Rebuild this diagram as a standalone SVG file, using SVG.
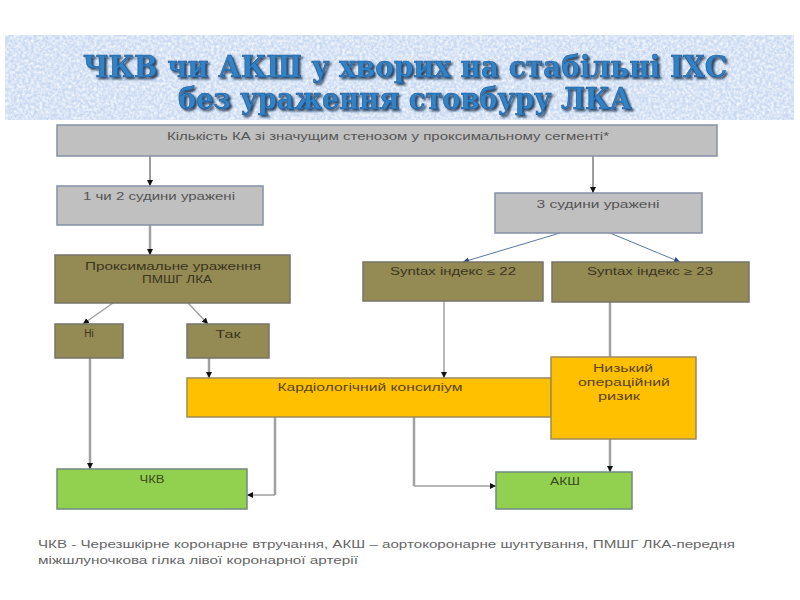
<svg xmlns="http://www.w3.org/2000/svg" width="800" height="600" viewBox="0 0 800 600">
<defs>
<filter id="tex" x="0" y="0" width="100%" height="100%">
<feTurbulence type="fractalNoise" baseFrequency="0.35" numOctaves="2" seed="3" result="n"/>
<feColorMatrix in="n" type="matrix" values="0 0 0 0 1  0 0 0 0 1  0 0 0 0 1  0 0 0 -1.6 1.1" result="w"/>
<feComposite in="w" in2="SourceGraphic" operator="in"/>
</filter>
<filter id="sh" x="-5%" y="-20%" width="110%" height="140%">
<feGaussianBlur in="SourceAlpha" stdDeviation="1"/>
<feOffset dx="2" dy="2" result="b"/>
<feFlood flood-color="#0c2440" flood-opacity="0.85"/>
<feComposite in2="b" operator="in" result="s"/>
<feMerge><feMergeNode in="s"/><feMergeNode in="SourceGraphic"/></feMerge>
</filter>
<marker id="ah" markerUnits="userSpaceOnUse" markerWidth="7" markerHeight="7" refX="6" refY="3" orient="auto">
<path d="M0,0 L6,3 L0,6 z" fill="#111"/>
</marker>
<marker id="ahb" markerUnits="userSpaceOnUse" markerWidth="7" markerHeight="7" refX="6" refY="3" orient="auto">
<path d="M0,0 L6,3 L0,6 z" fill="#2a4a80"/>
</marker>
</defs>
<style>
.t{font-family:"Liberation Sans",Arial,sans-serif;font-size:10px;text-anchor:middle}
.gray{fill:#c0c0c0;stroke:#8591a6;stroke-width:1.5}
.olive{fill:#948a54;stroke:#76746a;stroke-width:1.5}
.gold{fill:#ffc000;stroke:#9c8a5a;stroke-width:1.5}
.green{fill:#92d050;stroke:#6f8a80;stroke-width:1.5}
.tg{fill:#555}
.to{fill:#3b3520}
.ty{fill:#5a4418}
.tn{fill:#3a4a20}
.c1{fill:none;stroke:#3a3a3a;stroke-width:1}
.c2{fill:none;stroke:#a0a0a0;stroke-width:2.5}
.c3{fill:none;stroke:#a0a0a0;stroke-width:1.5}
.cb{fill:none;stroke:#5878a8;stroke-width:1}
.title{font-family:"DejaVu Serif","Liberation Serif",serif;font-weight:bold;font-size:30px;fill:#3282c6;stroke:#1d5590;stroke-width:0.6;text-anchor:middle}
.foot{font-family:"Liberation Sans",Arial,sans-serif;font-size:10px;fill:#666}
</style>
<rect x="0" y="0" width="800" height="600" fill="#fff"/>
<g id="banner">
<rect x="5" y="35" width="789" height="85" fill="#c9d9f2"/>
<rect x="5" y="35" width="789" height="85" fill="#c9d9f2" filter="url(#tex)"/>
<g filter="url(#sh)">
<text class="title" x="405" y="77" textLength="644" lengthAdjust="spacingAndGlyphs">ЧКВ чи АКШ у  хворих на стабільні ІХС</text>
<text class="title" x="405" y="109" textLength="454" lengthAdjust="spacingAndGlyphs">без ураження стовбуру ЛКА</text>
</g>
</g>
<g id="connectors">
<path class="c1" d="M150,156 V186" marker-end="url(#ah)"/>
<path class="c1" d="M593,156 V193" marker-end="url(#ah)"/>
<path class="c2" d="M150,225 V255" marker-end="url(#ah)"/>
<path class="c3" d="M113,303 L83,324" marker-end="url(#ah)"/>
<path class="c3" d="M188,303 L208,324" marker-end="url(#ah)"/>
<path class="cb" d="M560,233 L463,262" marker-end="url(#ahb)"/>
<path class="cb" d="M610,233 L680,262" marker-end="url(#ahb)"/>
<path class="c2" d="M90,358 V469" marker-end="url(#ah)"/>
<path class="c2" d="M209,358 V378" marker-end="url(#ah)"/>
<path class="c3" d="M444,301 V378" marker-end="url(#ah)"/>
<path class="c2" d="M610,302 V357"/>
<path class="c2" d="M275,417 V495"/>
<path class="c3" d="M275,495 H247" marker-end="url(#ah)"/>
<path class="c2" d="M414,417 V486"/>
<path class="c3" d="M414,486 H496" marker-end="url(#ah)"/>
<path class="c2" d="M610,439 V472" marker-end="url(#ah)"/>
</g>
<g id="n-top">
<rect class="gray" x="57" y="125" width="660" height="31"/>
<text class="t tg" x="388" y="140" textLength="442" lengthAdjust="spacingAndGlyphs">Кількість КА зі значущим стенозом у проксимальному сегменті*</text>
</g>
<g id="n-12">
<rect class="gray" x="57" y="186" width="206" height="39"/>
<text class="t tg" x="159" y="200" textLength="152" lengthAdjust="spacingAndGlyphs">1 чи 2 судини уражені</text>
</g>
<g id="n-3">
<rect class="gray" x="495" y="193" width="207" height="40"/>
<text class="t tg" x="598" y="208" textLength="123" lengthAdjust="spacingAndGlyphs">3 судини уражені</text>
</g>
<g id="n-prox">
<rect class="olive" x="55" y="255" width="235" height="48"/>
<text class="t to" x="173" y="270" textLength="176" lengthAdjust="spacingAndGlyphs">Проксимальне ураження</text>
<text class="t to" x="177" y="283" textLength="70" lengthAdjust="spacingAndGlyphs">ПМШГ ЛКА</text>
</g>
<g id="n-syn22">
<rect class="olive" x="363" y="262" width="180" height="39"/>
<text class="t to" x="453" y="275" textLength="126" lengthAdjust="spacingAndGlyphs">Syntax індекс ≤ 22</text>
</g>
<g id="n-syn23">
<rect class="olive" x="552" y="262" width="197" height="40"/>
<text class="t to" x="650" y="275" textLength="126" lengthAdjust="spacingAndGlyphs">Syntax індекс ≥ 23</text>
</g>
<g id="n-ni">
<rect class="olive" x="55" y="324" width="68" height="34"/>
<text class="t to" x="89" y="337">Ні</text>
</g>
<g id="n-tak">
<rect class="olive" x="187" y="324" width="82" height="34"/>
<text class="t to" x="228" y="338" textLength="25" lengthAdjust="spacingAndGlyphs">Так</text>
</g>
<g id="n-kons">
<rect class="gold" x="187" y="378" width="364" height="39"/>
<text class="t ty" x="370" y="391" textLength="185" lengthAdjust="spacingAndGlyphs">Кардіологічний консиліум</text>
</g>
<g id="n-risk">
<rect class="gold" x="551" y="357" width="145" height="82"/>
<text class="t ty" x="623" y="372" textLength="60" lengthAdjust="spacingAndGlyphs">Низький</text>
<text class="t ty" x="624" y="386" textLength="92" lengthAdjust="spacingAndGlyphs">операційний</text>
<text class="t ty" x="619" y="400" textLength="42" lengthAdjust="spacingAndGlyphs">ризик</text>
</g>
<g id="n-chkv">
<rect class="green" x="57" y="469" width="190" height="40"/>
<text class="t tn" x="152" y="483" textLength="25" lengthAdjust="spacingAndGlyphs">ЧКВ</text>
</g>
<g id="n-aksh">
<rect class="green" x="496" y="472" width="136" height="37"/>
<text class="t tn" x="565" y="485" textLength="30" lengthAdjust="spacingAndGlyphs">АКШ</text>
</g>
<g id="footnote">
<text class="foot" x="38" y="548" textLength="697" lengthAdjust="spacingAndGlyphs">ЧКВ - Черезшкірне коронарне втручання, АКШ – аортокоронарне шунтування, ПМШГ ЛКА-передня</text>
<text class="foot" x="38" y="564" textLength="320" lengthAdjust="spacingAndGlyphs">міжшлуночкова гілка лівої коронарної артерії</text>
</g>
</svg>
